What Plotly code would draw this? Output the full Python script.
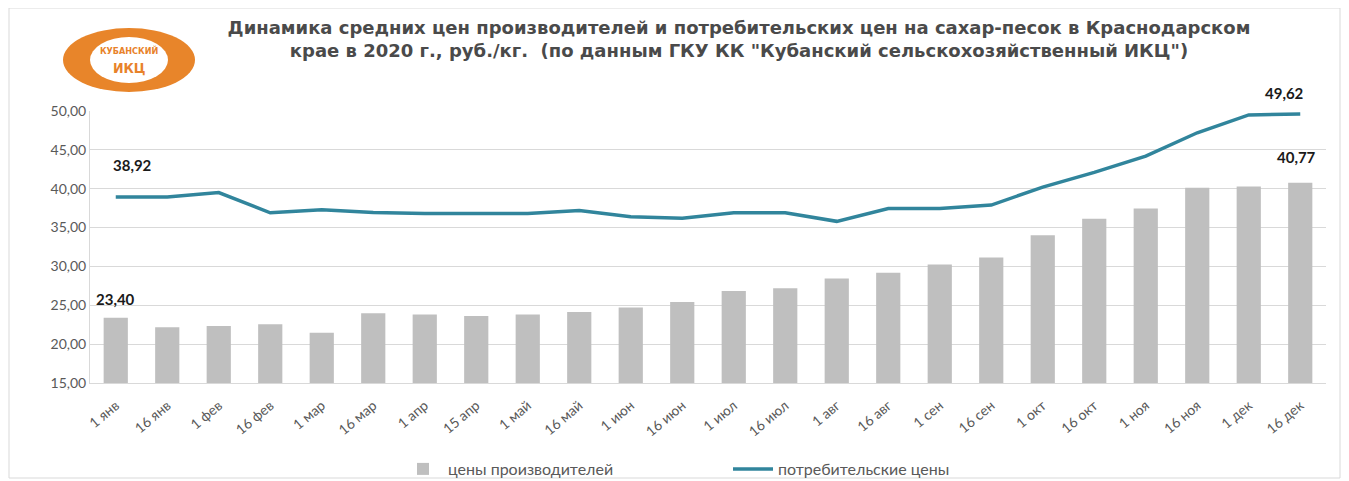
import plotly.graph_objects as go

categories = ["1 янв", "16 янв", "1 фев", "16 фев", "1 мар", "16 мар", "1 апр", "15 апр",
              "1 май", "16 май", "1 июн", "16 июн", "1 июл", "16 июл", "1 авг", "16 авг",
              "1 сен", "16 сен", "1 окт", "16 окт", "1 ноя", "16 ноя", "1 дек", "16 дек"]
producer = [23.40, 22.18, 22.35, 22.56, 21.45, 23.97, 23.80, 23.63, 23.80, 24.15, 24.70, 25.43,
            26.84, 27.18, 28.46, 29.19, 30.26, 31.15, 34.02, 36.15, 37.44, 40.13, 40.30, 40.77]
consumer = [38.92, 38.92, 39.50, 36.90, 37.30, 36.95, 36.80, 36.80, 36.80, 37.20, 36.40, 36.20,
            36.90, 36.90, 35.80, 37.45, 37.45, 37.90, 40.20, 42.10, 44.20, 47.20, 49.50, 49.62]
y_ticks = [15, 20, 25, 30, 35, 40, 45, 50]

series_names = ["цены производителей", "потребительские цены"]
title_text = ("Динамика средних цен производителей и потребительских цен на сахар-песок в Краснодарском<br>"
              "крае в 2020 г., руб./кг.  (по данным ГКУ КК \"Кубанский сельскохозяйственный ИКЦ\")")

# the page body adds an 8px margin, so the figure is sized to fill the rest of the window
OFF = 8
W, H = 1349 - OFF, 481 - OFF
ML, MR, MT, MB = 90 - OFF, 23, 111 - OFF, 98
PW, PH = W - ML - MR, H - MT - MB


def px(x):
    # x given in window pixels
    return (x - OFF - ML) / PW


def py(y):
    # y given in window pixels
    return (H - MB - (y - OFF)) / PH


fig = go.Figure()
fig.add_trace(go.Bar(x=categories, y=producer, name=series_names[0],
                     marker=dict(color="#BFBFBF", line=dict(width=0)), width=0.47))
fig.add_trace(go.Scatter(x=categories, y=consumer, name=series_names[1], mode="lines",
                         line=dict(color="#31859C", width=3.5)))

fmt = lambda v: f"{v:.2f}".replace(".", ",")
lab_font = dict(family="Lato, Open Sans, sans-serif", size=15, color="#1a1a1a")
annots = [
    dict(x=categories[0], y=producer[0], text="<b>" + fmt(producer[0]) + "</b>", yanchor="bottom", yshift=8, xshift=0),
    dict(x=categories[0], y=consumer[0], text="<b>" + fmt(consumer[0]) + "</b>", yanchor="bottom", yshift=21, xshift=17),
    dict(x=categories[-1], y=consumer[-1], text="<b>" + fmt(consumer[-1]) + "</b>", yanchor="bottom", yshift=10, xshift=-16),
    dict(x=categories[-1], y=producer[-1], text="<b>" + fmt(producer[-1]) + "</b>", yanchor="bottom", yshift=15, xshift=-4),
]
for a in annots:
    a.update(xref="x", yref="y", showarrow=False, font=lab_font, xanchor="center")

# logo text
logo_font = "DejaVu Sans Condensed, DejaVu Sans"
annots.append(dict(xref="paper", yref="paper", x=px(129), y=py(51), xanchor="center", yanchor="middle",
                   text="<b>КУБАНСКИЙ</b>", showarrow=False,
                   font=dict(family=logo_font, size=9, color="#E8822A")))
annots.append(dict(xref="paper", yref="paper", x=px(129), y=py(68), xanchor="center", yanchor="middle",
                   text="<b>ИКЦ</b>", showarrow=False,
                   font=dict(family=logo_font, size=14, color="#E8822A")))

shapes = [
    # outer frame
    dict(type="rect", xref="paper", yref="paper", x0=px(9), x1=px(1340), y0=py(8), y1=py(478),
         line=dict(color="#D9D9D9", width=1), fillcolor="rgba(0,0,0,0)", layer="below"),
    # logo
    dict(type="circle", xref="paper", yref="paper", x0=px(63), x1=px(195), y0=py(28), y1=py(92),
         line=dict(width=0), fillcolor="#E8852A", layer="above"),
    dict(type="circle", xref="paper", yref="paper", x0=px(90), x1=px(168), y0=py(37), y1=py(83),
         line=dict(width=0), fillcolor="#FFFFFF", layer="above"),
]

fig.update_layout(
    width=W, height=H,
    margin=dict(l=ML, r=MR, t=MT, b=MB, autoexpand=False),
    paper_bgcolor="white", plot_bgcolor="white",
    separators=", ",
    title=dict(text="<b>" + title_text + "</b>", x=(739 - OFF) / W, xanchor="center", xref="container",
               y=1 - (34 - OFF) / H, yanchor="top", yref="container",
               font=dict(family="DejaVu Sans", size=18, color="#4a4a4a")),
    xaxis=dict(tickangle=-40, tickfont=dict(family="Lato, sans-serif", size=14, color="#595959"),
               showgrid=False, showline=True, linecolor="#D9D9D9", linewidth=1, ticks="",
               ticklabelstandoff=8,
               categoryorder="array", categoryarray=categories),
    yaxis=dict(range=[15, 50], tickvals=y_ticks, tickformat=".2f",
               tickfont=dict(family="Lato, sans-serif", size=14, color="#595959"),
               showgrid=True, gridcolor="#D9D9D9", gridwidth=1, zeroline=False,
               showline=True, linecolor="#D9D9D9", linewidth=1, ticks="", ticklen=0),
    legend=dict(orientation="h", x=px(398), y=py(452), xanchor="left", yanchor="top",
                xref="paper", yref="paper", entrywidth=275, entrywidthmode="pixels",
                bgcolor="rgba(0,0,0,0)",
                itemwidth=40, font=dict(family="Lato, sans-serif", size=16, color="#595959")),
    bargap=0.5,
    annotations=annots,
    shapes=shapes,
)

fig.write_html("out.html")
